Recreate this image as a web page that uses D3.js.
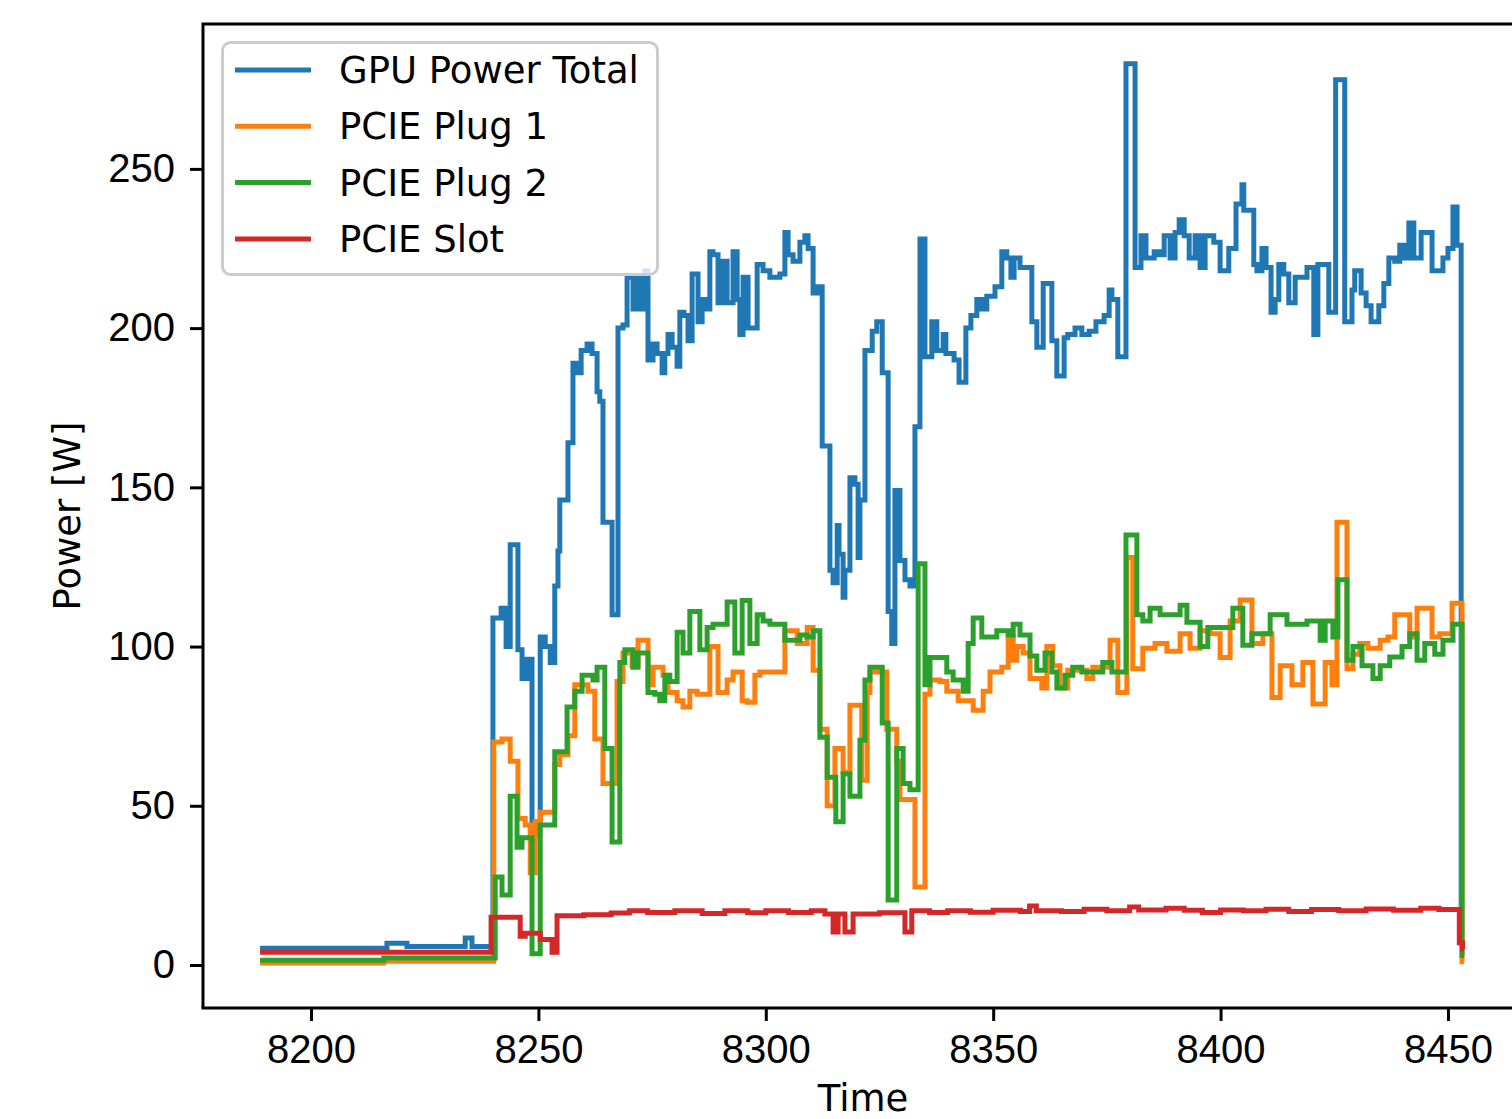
<!DOCTYPE html>
<html>
<head>
<meta charset="utf-8">
<script src="https://cdn.jsdelivr.net/npm/d3@7"></script>
<style>
  body { margin: 0; background: #fff; }
  svg { display: block; font-family: "DejaVu Sans", sans-serif; }
  .axis text { font-size: 40px; fill: #000; }
  .axis line { stroke: #000; stroke-width: 3px; }
  .label { font-size: 37px; fill: #000; }
</style>
</head>
<body>
<svg id="chart" width="1512" height="1119"></svg>
<script>
// legend names and matplotlib default colours
var seriesNames = ["GPU Power Total", "PCIE Plug 1", "PCIE Plug 2", "PCIE Slot"];
var seriesColors = ["#1f77b4", "#ff7f0e", "#2ca02c", "#d62728"];

// tick values
var xTicks = [8200, 8250, 8300, 8350, 8400, 8450];
var yTicks = [0, 50, 100, 150, 200, 250];

// [time, watts] points, value holds until the next point
var gpuTotal = [
	[8188.8, 5.3], [8216.7, 6.8], [8221.1, 5.8], [8233.9, 8.5], [8235.4, 5.8], [8240.0, 109], [8241.8, 112],
	[8242.9, 100], [8243.8, 132], [8245.5, 99], [8246.4, 90], [8247.5, 96], [8248.6, 41], [8249.7, 45],
	[8250.4, 103], [8251.5, 100], [8252.6, 95], [8253.6, 119], [8254.3, 130], [8254.7, 146], [8256.5, 164],
	[8257.6, 189], [8258.5, 186], [8259.4, 193], [8260.7, 195], [8261.8, 192], [8262.9, 180], [8263.5, 177],
	[8264.2, 139], [8266.2, 110], [8267.5, 200], [8268.6, 201], [8269.5, 216], [8270.8, 206], [8271.7, 216],
	[8272.8, 206], [8273.4, 218], [8274.1, 190], [8275.2, 195], [8276.1, 192], [8277.2, 186], [8277.8, 192],
	[8278.5, 198], [8279.4, 194], [8280.5, 188], [8281.1, 205], [8282.0, 204], [8282.9, 196], [8283.8, 217],
	[8285.1, 202], [8286.0, 209], [8287.1, 206], [8287.7, 224], [8288.4, 223], [8289.5, 208], [8290.4, 221],
	[8291.5, 208], [8292.8, 224], [8293.7, 209], [8294.3, 198], [8295.0, 216], [8296.1, 200], [8298.1, 220],
	[8299.4, 218], [8300.9, 216], [8303.1, 217], [8304.2, 230], [8304.9, 223], [8306.0, 221], [8307.5, 227],
	[8308.6, 229], [8309.3, 225], [8310.4, 211], [8311.3, 213], [8312.4, 163], [8314.1, 124], [8314.8, 120],
	[8315.7, 138], [8316.1, 129], [8317.0, 115.5], [8317.4, 124], [8318.5, 153], [8319.6, 151], [8320.3, 128],
	[8320.7, 146], [8321.8, 193], [8323.4, 199], [8324.4, 202], [8325.6, 186], [8326.9, 111], [8327.7, 101],
	[8328.4, 149], [8329.5, 127], [8330.6, 121], [8331.7, 119], [8332.8, 169], [8333.9, 228], [8335.0, 191],
	[8336.5, 202], [8337.6, 193], [8339.0, 198], [8339.6, 192], [8341.4, 190], [8342.5, 183], [8344.0, 200],
	[8345.1, 204], [8346.4, 209], [8347.5, 206], [8348.6, 210], [8350.4, 213], [8351.9, 224], [8353.0, 222],
	[8353.9, 216], [8354.6, 222], [8355.9, 219], [8358.5, 202], [8359.6, 194], [8361.0, 214], [8362.9, 196],
	[8364.0, 185], [8365.6, 197], [8366.4, 198], [8368.0, 200], [8369.5, 198], [8371.1, 199], [8372.6, 202],
	[8374.4, 204], [8375.5, 212], [8376.1, 209], [8377.4, 191], [8379.2, 283], [8381.2, 219], [8382.5, 229],
	[8383.6, 222], [8385.4, 224], [8386.5, 223], [8387.6, 229], [8388.9, 222], [8390.0, 230], [8390.9, 234],
	[8392.0, 229], [8393.1, 222], [8394.4, 229], [8395.5, 219], [8396.6, 229], [8398.5, 227], [8399.9, 218],
	[8401.8, 225], [8403.4, 239], [8404.7, 245], [8405.1, 237], [8407.3, 220], [8408.0, 218], [8409.1, 225],
	[8410.0, 219], [8411.1, 205], [8412.0, 209], [8412.8, 220], [8413.9, 217], [8415.0, 208], [8416.4, 216],
	[8419.0, 219], [8420.5, 198], [8421.4, 220], [8423.8, 205], [8425.3, 278], [8427.3, 202], [8428.9, 212],
	[8429.5, 218], [8430.9, 211], [8432.0, 207], [8433.1, 202], [8434.8, 207], [8435.9, 214], [8437.0, 222],
	[8438.3, 221], [8439.4, 226], [8440.3, 222], [8441.4, 233], [8442.5, 222], [8444.1, 230], [8446.5, 218],
	[8448.9, 222], [8450.0, 225], [8451.1, 238], [8452.0, 226], [8452.9, 8], [8453.5, 8]
];

var pciePlug1 = [
	[8188.8, 0.6], [8216.0, 1.2], [8240.2, 70], [8242.0, 71], [8243.8, 64], [8245.5, 46], [8247.1, 44],
	[8248.2, 29], [8249.3, 45], [8250.4, 48], [8253.6, 63], [8254.7, 66], [8256.5, 72], [8258.0, 88],
	[8260.9, 86], [8262.4, 71], [8264.2, 57], [8267.3, 89], [8268.6, 98], [8270.6, 94], [8271.9, 102],
	[8274.1, 88], [8275.2, 93.5], [8277.4, 91], [8278.5, 85.6], [8280.5, 83], [8281.8, 81], [8283.3, 86],
	[8284.9, 85], [8287.7, 100], [8289.5, 85.6], [8291.5, 89.5], [8292.8, 92], [8294.8, 83], [8295.9, 82.5],
	[8297.6, 91], [8298.7, 92], [8304.2, 105], [8306.9, 101], [8309.1, 106], [8310.4, 92.6], [8311.9, 74],
	[8313.5, 50], [8315.2, 68], [8317.0, 60.5], [8318.5, 81.6], [8321.1, 58], [8322.3, 85.6], [8322.9, 92],
	[8326.6, 74], [8328.8, 64], [8329.5, 52], [8332.8, 24.5], [8335.0, 85], [8336.1, 89.5], [8338.3, 89],
	[8339.8, 86], [8342.3, 83], [8345.6, 80], [8347.8, 86], [8349.3, 92], [8351.9, 93.5], [8353.3, 103],
	[8354.4, 95.7], [8355.2, 100], [8356.6, 98], [8358.1, 90], [8360.7, 87], [8361.8, 100], [8363.1, 94],
	[8364.7, 87], [8366.4, 92.6], [8370.6, 90], [8371.9, 93.5], [8375.7, 102], [8377.4, 85.6], [8379.4, 128],
	[8380.7, 93], [8382.9, 99.5], [8385.6, 101], [8388.2, 98.5], [8391.1, 104], [8393.3, 99.5], [8395.5, 105],
	[8397.7, 104], [8399.9, 96.6], [8402.1, 108], [8404.3, 114.6], [8406.9, 101], [8409.3, 104], [8411.3, 84],
	[8413.1, 94], [8415.7, 88], [8418.1, 95], [8420.3, 82], [8423.0, 95], [8424.5, 88], [8425.6, 139],
	[8427.8, 93], [8429.1, 97.6], [8430.6, 101], [8432.4, 99.5], [8435.1, 102], [8436.8, 103], [8438.3, 110],
	[8441.6, 103], [8443.2, 112], [8446.5, 103], [8448.2, 104], [8450.9, 113.6], [8453.1, 1], [8453.5, 1]
];

var pciePlug2 = [
	[8188.8, 1.5], [8216.0, 2.2], [8240.5, 27.6], [8242.0, 22], [8243.8, 53], [8245.3, 37], [8246.4, 40],
	[8248.6, 3.5], [8250.4, 44], [8253.6, 67], [8256.3, 81], [8258.0, 86], [8259.6, 91], [8262.0, 89.5],
	[8262.9, 93.5], [8264.6, 68], [8266.2, 38.6], [8267.9, 95], [8269.0, 99], [8270.8, 93.5], [8271.9, 98],
	[8274.1, 85.6], [8275.6, 85], [8276.7, 83], [8277.8, 91], [8278.9, 89], [8280.5, 104.5], [8281.8, 98],
	[8283.3, 111], [8285.5, 99], [8287.1, 106], [8288.4, 107], [8291.5, 114], [8293.2, 98], [8294.8, 114.5],
	[8296.5, 101], [8298.1, 110], [8299.4, 108], [8300.9, 107], [8304.2, 102], [8307.5, 103.6], [8309.1, 103],
	[8310.4, 105], [8311.9, 71.5], [8313.5, 59], [8315.4, 45], [8317.0, 60], [8318.5, 53], [8320.7, 70.6],
	[8321.8, 89.5], [8322.9, 93.5], [8325.6, 76], [8326.9, 20.4], [8328.8, 68], [8330.2, 57], [8331.7, 55],
	[8333.5, 126], [8335.0, 88], [8336.1, 96.6], [8339.8, 92], [8341.2, 89.5], [8343.4, 86], [8344.5, 101],
	[8345.6, 109], [8347.5, 103], [8350.8, 105], [8353.3, 103.6], [8354.4, 107], [8355.9, 103.6], [8358.1, 97],
	[8359.6, 92.6], [8361.4, 98], [8362.9, 92], [8364.0, 87], [8365.8, 91], [8367.5, 93.5], [8369.5, 92],
	[8374.1, 95], [8376.1, 92], [8379.2, 135], [8381.6, 110], [8382.9, 108], [8384.5, 112], [8386.7, 110],
	[8391.1, 113], [8392.6, 107.6], [8395.5, 100], [8397.2, 106], [8402.7, 112], [8404.9, 100.4], [8406.9, 104],
	[8410.9, 110], [8414.6, 107], [8419.0, 108], [8421.9, 102], [8423.0, 108], [8424.7, 103], [8425.8, 121],
	[8427.8, 95.7], [8429.1, 100], [8431.1, 94], [8433.5, 90], [8435.1, 94], [8437.2, 96.7], [8439.9, 100],
	[8441.6, 104], [8443.2, 95.7], [8444.9, 101], [8447.1, 97.6], [8448.9, 102], [8451.1, 107], [8453.1, 3],
	[8453.5, 3]
];

var pcieSlot = [
	[8188.8, 4], [8239.6, 15], [8246.0, 9], [8247.1, 10], [8250.4, 8], [8253.0, 4], [8254.1, 15.5],
	[8260.0, 15.8], [8266.0, 16.3], [8270.0, 17], [8274.0, 16.5], [8280.0, 17], [8286.0, 16.2], [8291.0, 17],
	[8296.0, 16.4], [8300.0, 17], [8305.0, 16.5], [8310.0, 17], [8313.0, 16], [8314.8, 10.4], [8315.9, 16],
	[8317.4, 10.4], [8319.2, 16], [8325.0, 16.4], [8330.6, 10.4], [8332.1, 17], [8336.0, 16.5], [8340.0, 17],
	[8345.0, 16.6], [8350.0, 17.2], [8356.0, 16.8], [8358.0, 18.5], [8359.5, 17], [8365.0, 16.8], [8370.0, 17.5],
	[8375.0, 17], [8380.0, 18.2], [8382.0, 17.3], [8388.0, 17.8], [8392.0, 17.2], [8396.0, 16.5], [8400.0, 17.3],
	[8405.0, 17], [8410.0, 17.5], [8415.0, 16.8], [8420.0, 17.4], [8426.0, 17], [8432.0, 17.6], [8438.0, 17.2],
	[8444.0, 17.8], [8448.0, 17.4], [8452.5, 7], [8453.2, 5], [8453.5, 5]
];

var allSeries = [gpuTotal, pciePlug1, pciePlug2, pcieSlot];

var svg = d3.select("#chart");

// plot area; the right spine falls just outside the picture
var plot = {left: 203, right: 1523, top: 24, bottom: 1008};

var x = d3.scaleLinear()
	.domain([8176.25, 8466.5])
	.range([plot.left, plot.right]);

var y = d3.scaleLinear()
	.domain([-13.5, 295.5])
	.range([plot.bottom, plot.top]);

var line = d3.line()
	.curve(d3.curveStepAfter)
	.x(function(d) { return x(d[0]); })
	.y(function(d) { return y(d[1]); });

// the four series, drawn in legend order so the slot ends up on top
svg.append("g")
	.selectAll("path")
	.data(allSeries)
	.enter()
	.append("path")
	.attr("d", line)
	.attr("fill", "none")
	.attr("stroke", function(d, i) { return seriesColors[i]; })
	.attr("stroke-width", 5)
	.attr("stroke-linejoin", "miter");

// axes
var xAxis = svg.append("g")
	.attr("class", "axis")
	.attr("transform", "translate(0," + plot.bottom + ")")
	.call(d3.axisBottom(x).tickValues(xTicks).tickSize(13).tickPadding(14).tickFormat(d3.format("d")));

var yAxis = svg.append("g")
	.attr("class", "axis")
	.attr("transform", "translate(" + plot.left + ",0)")
	.call(d3.axisLeft(y).tickValues(yTicks).tickSize(13).tickPadding(15).tickFormat(d3.format("d")));

xAxis.select(".domain").remove();
yAxis.select(".domain").remove();

// spines: left, top and bottom (right one is cut off)
svg.append("path")
	.attr("d", "M" + plot.left + "," + plot.bottom + "V" + plot.top + "H" + (plot.right + 10))
	.attr("fill", "none")
	.attr("stroke", "#000")
	.attr("stroke-width", 3);

svg.append("line")
	.attr("x1", plot.left - 1.5)
	.attr("x2", plot.right + 10)
	.attr("y1", plot.bottom)
	.attr("y2", plot.bottom)
	.attr("stroke", "#000")
	.attr("stroke-width", 3);

// axis labels
svg.append("text")
	.attr("class", "label")
	.attr("x", (plot.left + plot.right) / 2)
	.attr("y", 1111)
	.attr("text-anchor", "middle")
	.text("Time");

svg.append("text")
	.attr("class", "label")
	.attr("transform", "translate(80," + (plot.top + plot.bottom) / 2 + ") rotate(-90)")
	.attr("text-anchor", "middle")
	.text("Power [W]");

// legend in the upper left corner
var legend = svg.append("g")
	.attr("transform", "translate(222,42)");

legend.append("rect")
	.attr("x", 0.5)
	.attr("y", 0.5)
	.attr("width", 435)
	.attr("height", 232)
	.attr("rx", 8)
	.attr("fill", "#fff")
	.attr("fill-opacity", 0.8)
	.attr("stroke", "#cccccc")
	.attr("stroke-width", 3);

var legendRow = legend.selectAll(".legendRow")
	.data(seriesNames)
	.enter()
	.append("g")
	.attr("class", "legendRow")
	.attr("transform", function(d, i) { return "translate(0," + (28 + i * 56.3) + ")"; });

legendRow.append("line")
	.attr("x1", 13)
	.attr("x2", 89)
	.attr("stroke", function(d, i) { return seriesColors[i]; })
	.attr("stroke-width", 5);

legendRow.append("text")
	.attr("class", "label")
	.attr("x", 117)
	.attr("y", 13)
	.text(function(d) { return d; });
</script>
</body>
</html>
